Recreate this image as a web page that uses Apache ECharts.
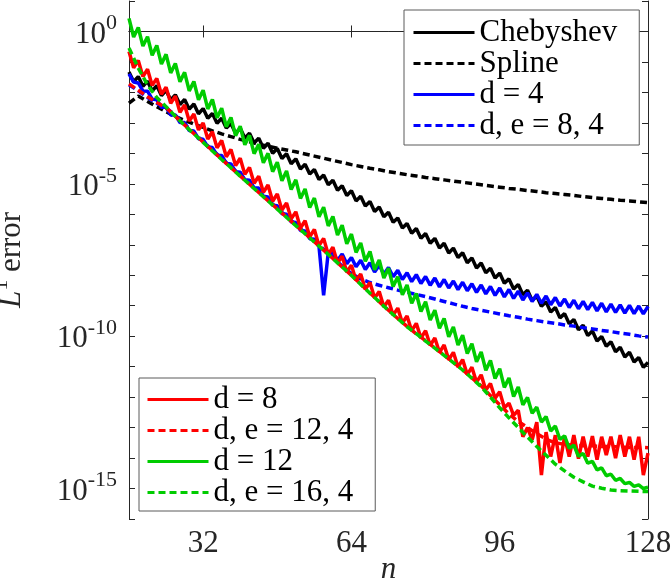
<!DOCTYPE html>
<html>
<head>
<meta charset="utf-8">
<script src="https://cdn.jsdelivr.net/npm/echarts@6/dist/echarts.min.js"></script>
<style>
  html, body { margin: 0; padding: 0; background: #fff; }
  #chart { width: 672px; height: 584px; }
</style>
</head>
<body>
<div id="chart"></div>
<script>
// log10 of the L1 error
// solid curves: one value per n = 16..128
const logChebyshev = [
  -1.33, -1.65, -1.48, -1.80, -1.63, -1.95, -1.78, -2.10, -1.93, -2.25,
  -2.08, -2.40, -2.23, -2.55, -2.38, -2.70, -2.53, -2.85, -2.69, -3.01,
  -2.85, -3.17, -3.02, -3.34, -3.18, -3.50, -3.34, -3.66, -3.50, -3.83,
  -3.67, -4.00, -3.84, -4.17, -4.01, -4.34, -4.18, -4.51, -4.36, -4.68,
  -4.53, -4.86, -4.71, -5.03, -4.88, -5.21, -5.06, -5.38, -5.23, -5.56,
  -5.41, -5.73, -5.58, -5.91, -5.76, -6.08, -5.93, -6.26, -6.12, -6.45,
  -6.30, -6.62, -6.47, -6.79, -6.63, -6.95, -6.79, -7.11, -6.95, -7.27,
  -7.11, -7.42, -7.26, -7.59, -7.43, -7.76, -7.60, -7.92, -7.77, -8.09,
  -7.93, -8.26, -8.12, -8.45, -8.30, -8.64, -8.49, -8.83, -8.68, -9.02,
  -8.87, -9.21, -9.06, -9.40, -9.26, -9.59, -9.45, -9.79, -9.64, -9.98,
  -9.83, -10.16, -10.01, -10.33, -10.18, -10.51, -10.36, -10.68, -10.53, -10.85,
  -10.70, -11.02, -10.86
];
const logD4 = [
  -1.39, -1.66, -1.69, -1.95, -1.96, -2.22, -2.24, -2.49, -2.49, -2.74,
  -2.74, -2.99, -2.99, -3.25, -3.27, -3.52, -3.54, -3.79, -3.81, -4.06,
  -4.07, -4.33, -4.35, -4.60, -4.62, -4.87, -4.88, -5.13, -5.14, -5.41,
  -5.43, -5.70, -5.72, -5.98, -6.00, -6.25, -6.27, -6.53, -6.55, -6.80,
  -6.82, -7.05, -8.66, -7.25, -7.25, -7.52, -7.30, -7.62, -7.42, -7.72,
  -7.51, -7.81, -7.59, -7.89, -7.67, -7.97, -7.75, -8.05, -7.84, -8.14,
  -7.92, -8.21, -7.98, -8.27, -8.04, -8.33, -8.09, -8.38, -8.14, -8.42,
  -8.19, -8.47, -8.23, -8.51, -8.28, -8.56, -8.32, -8.61, -8.37, -8.66,
  -8.42, -8.71, -8.47, -8.76, -8.52, -8.81, -8.58, -8.86, -8.63, -8.92,
  -8.68, -8.97, -8.73, -9.01, -8.78, -9.06, -8.82, -9.10, -8.86, -9.13,
  -8.89, -9.17, -8.92, -9.20, -8.95, -9.22, -8.97, -9.24, -8.99, -9.26,
  -9.01, -9.27, -9.02
];
const logD8 = [
  -0.66, -1.19, -0.95, -1.48, -1.24, -1.77, -1.54, -2.06, -1.83, -2.36,
  -2.12, -2.65, -2.41, -2.94, -2.71, -3.23, -3.00, -3.53, -3.29, -3.82,
  -3.58, -4.11, -3.87, -4.40, -4.16, -4.69, -4.46, -4.98, -4.75, -5.28,
  -5.04, -5.57, -5.33, -5.86, -5.63, -6.15, -5.92, -6.45, -6.21, -6.74,
  -6.50, -7.03, -6.79, -7.32, -7.08, -7.60, -7.38, -7.89, -7.67, -8.17,
  -7.96, -8.46, -8.24, -8.75, -8.53, -9.04, -8.82, -9.31, -9.08, -9.57,
  -9.34, -9.82, -9.58, -10.06, -9.82, -10.30, -10.06, -10.53, -10.29, -10.77,
  -10.53, -11.01, -10.77, -11.26, -11.02, -11.51, -11.27, -11.77, -11.55, -12.04,
  -11.82, -12.35, -12.20, -12.60, -12.43, -13.30, -13.00, -13.40, -12.82, -14.56,
  -13.15, -13.95, -13.25, -14.16, -13.30, -13.95, -13.25, -14.02, -13.30, -13.95,
  -13.28, -14.05, -13.30, -13.90, -13.30, -14.00, -13.25, -13.95, -13.30, -14.05,
  -13.30, -14.56, -13.84
];
const logD12 = [
  0.43, -0.18, 0.13, -0.48, -0.17, -0.78, -0.46, -1.07, -0.75, -1.36,
  -1.05, -1.65, -1.34, -1.95, -1.64, -2.24, -1.93, -2.54, -2.23, -2.83,
  -2.52, -3.13, -2.82, -3.42, -3.11, -3.72, -3.41, -4.01, -3.70, -4.31,
  -4.00, -4.60, -4.29, -4.90, -4.58, -5.19, -4.87, -5.48, -5.17, -5.78,
  -5.47, -6.08, -5.77, -6.38, -6.07, -6.68, -6.36, -6.97, -6.65, -7.25,
  -6.94, -7.54, -7.22, -7.82, -7.50, -8.09, -7.77, -8.37, -8.05, -8.64,
  -8.32, -8.92, -8.60, -9.19, -8.87, -9.47, -9.15, -9.74, -9.42, -10.02,
  -9.70, -10.29, -9.97, -10.57, -10.25, -10.84, -10.52, -11.12, -10.80, -11.39,
  -11.07, -11.68, -11.37, -11.98, -11.67, -12.25, -12.01, -12.53, -12.33, -12.82,
  -12.64, -13.11, -12.95, -13.39, -13.27, -13.68, -13.58, -13.94, -13.85, -14.17,
  -14.11, -14.39, -14.32, -14.58, -14.53, -14.73, -14.67, -14.84, -14.80, -14.93,
  -14.88, -15.00, -14.96
];

// dashed curves: one value per even n = 16, 18, ..., 128
const logSpline = [
  -2.35, -2.12, -2.30, -2.47, -2.63, -2.79, -2.92, -3.04, -3.15, -3.26,
  -3.36, -3.45, -3.54, -3.62, -3.70, -3.77, -3.83, -3.89, -3.95, -4.02,
  -4.09, -4.16, -4.23, -4.30, -4.37, -4.43, -4.49, -4.54, -4.60, -4.65,
  -4.70, -4.74, -4.79, -4.83, -4.87, -4.91, -4.95, -4.99, -5.03, -5.07,
  -5.11, -5.15, -5.18, -5.22, -5.25, -5.29, -5.32, -5.35, -5.38, -5.42,
  -5.45, -5.48, -5.51, -5.54, -5.56, -5.59, -5.62
];
const logDE8_4 = [
  -1.75, -1.95, -2.17, -2.36, -2.50, -2.76, -3.05, -3.33, -3.61, -3.89,
  -4.17, -4.44, -4.72, -4.99, -5.26, -5.53, -5.80, -6.07, -6.34, -6.61,
  -6.88, -7.15, -7.42, -7.70, -7.95, -8.12, -8.24, -8.33, -8.41, -8.49,
  -8.56, -8.63, -8.70, -8.78, -8.86, -8.94, -9.02, -9.09, -9.15, -9.21,
  -9.27, -9.33, -9.38, -9.44, -9.49, -9.54, -9.58, -9.63, -9.67, -9.72,
  -9.76, -9.81, -9.85, -9.90, -9.94, -9.99, -10.03
];
const logDE12_4 = [
  -1.72, -1.93, -2.14, -2.33, -2.50, -2.78, -3.07, -3.35, -3.63, -3.91,
  -4.19, -4.47, -4.74, -5.01, -5.28, -5.55, -5.82, -6.09, -6.36, -6.63,
  -6.90, -7.18, -7.45, -7.73, -8.00, -8.29, -8.58, -8.87, -9.15, -9.42,
  -9.68, -9.92, -10.15, -10.39, -10.62, -10.86, -11.10, -11.37, -11.63, -11.95,
  -12.25, -12.55, -12.80, -13.00, -13.20, -13.38, -13.50, -13.55, -13.58, -13.60,
  -13.60, -13.62, -13.62, -13.64, -13.65, -13.65, -13.66
];
const logDE16_4 = [
  -0.54, -1.20, -1.75, -2.17, -2.47, -2.78, -3.08, -3.36, -3.64, -3.92,
  -4.20, -4.47, -4.75, -5.02, -5.29, -5.56, -5.83, -6.10, -6.37, -6.64,
  -6.91, -7.18, -7.46, -7.73, -8.01, -8.30, -8.59, -8.87, -9.16, -9.42,
  -9.69, -9.92, -10.16, -10.39, -10.63, -10.87, -11.11, -11.38, -11.66, -12.00,
  -12.35, -12.68, -13.00, -13.31, -13.62, -13.91, -14.20, -14.42, -14.63, -14.78,
  -14.92, -14.99, -15.05, -15.07, -15.08, -15.09, -15.10
];

const xTickValues = [32, 64, 96, 128];
const yLabelExponents = [0, -5, -10, -15];

const nAll = [];
for (let n = 16; n <= 128; n++) nAll.push(n);
const nEven = nAll.filter(n => n % 2 === 0);

const FONT = '"Liberation Serif", "DejaVu Serif", serif';
const AXIS_COLOR = '#262626';
const DASH = [7, 4];

function pairs (xs, ys) {
  return ys.map((y, i) => [xs[i], y]);
}

function lineSeries (name, xs, ys, color, dashed) {
  return {
    name: name,
    type: 'line',
    data: pairs(xs, ys),
    symbol: 'none',
    showSymbol: false,
    color: color,
    lineStyle: { color: color, width: 3.5, type: dashed ? DASH : 'solid' },
    emphasis: { disabled: true },
    animation: false
  };
}

const supRich = {
  b: { fontSize: 31, fontFamily: FONT, color: AXIS_COLOR, lineHeight: 44 },
  s: { fontSize: 22, fontFamily: FONT, color: AXIS_COLOR, lineHeight: 22, verticalAlign: 'top' },
  i: { fontSize: 31, fontFamily: FONT, color: AXIS_COLOR, fontStyle: 'italic', lineHeight: 44 }
};

const legendCommon = {
  orient: 'vertical',
  itemWidth: 61,
  itemHeight: 12,
  itemGap: 0,
  backgroundColor: '#fff',
  borderColor: '#5a5a5a',
  borderWidth: 1,
  borderRadius: 0,
  selectedMode: false,
  lineStyle: { width: 3 },
  itemStyle: { color: 'transparent', borderWidth: 0 },
  textStyle: { fontFamily: FONT, fontSize: 31, color: '#000', lineHeight: 30.5 }
};

const chart = echarts.init(document.getElementById('chart'), null, { renderer: 'canvas' });

const option = {
  animation: false,
  backgroundColor: '#fff',
  grid: { left: 129, right: 24, top: 1, bottom: 65, outerBoundsMode: 'none', containLabel: false },
  legend: [
    Object.assign({}, legendCommon, {
      data: ['Chebyshev', 'Spline', 'd = 4', 'd, e = 8, 4'],
      left: 404,
      top: 10,
      padding: [7, 22, 4, 8]
    }),
    Object.assign({}, legendCommon, {
      data: ['d = 8', 'd, e = 12, 4', 'd = 12', 'd, e = 16, 4'],
      left: 139,
      top: 378,
      padding: [6, 22, 3, 7]
    })
  ],
  xAxis: [
    {
      type: 'value',
      min: 16,
      max: 128,
      position: 'bottom',
      name: 'n',
      nameLocation: 'middle',
      nameGap: 35,
      nameMoveOverlap: false,
      nameTextStyle: { fontFamily: FONT, fontSize: 31, fontStyle: 'italic', color: AXIS_COLOR },
      axisLine: { lineStyle: { color: AXIS_COLOR, width: 1 } },
      axisTick: { inside: true, length: 6, customValues: xTickValues, lineStyle: { color: AXIS_COLOR } },
      axisLabel: { customValues: xTickValues, fontFamily: FONT, fontSize: 31, color: AXIS_COLOR, margin: 9 },
      splitLine: { show: false }
    },
    {
      type: 'value',
      min: 16,
      max: 128,
      position: 'top',
      axisLine: { lineStyle: { color: AXIS_COLOR, width: 1 } },
      axisTick: { inside: true, length: 6, customValues: xTickValues.slice(0, 3), lineStyle: { color: AXIS_COLOR } },
      axisLabel: { show: false },
      splitLine: { show: false }
    }
  ],
  yAxis: [
    {
      type: 'value',
      min: -16,
      max: 1,
      interval: 1,
      position: 'left',
      name: '{i|L}{s|1}{b| error}',
      nameLocation: 'middle',
      nameGap: 95,
      nameRotate: 90,
      nameTextStyle: { rich: supRich },
      axisLine: { lineStyle: { color: AXIS_COLOR, width: 1 } },
      axisTick: { inside: true, length: 6, lineStyle: { color: AXIS_COLOR } },
      axisLabel: {
        margin: 12,
        padding: [6, 0, 0, 0],
        formatter: function (v) {
          return yLabelExponents.indexOf(v) >= 0 ? '{b|10}{s|' + v + '}' : '';
        },
        rich: supRich
      },
      splitLine: { show: false }
    },
    {
      type: 'value',
      min: -16,
      max: 1,
      interval: 1,
      position: 'right',
      axisLine: { show: true, lineStyle: { color: AXIS_COLOR, width: 1 } },
      axisTick: { show: true, inside: true, length: 6, lineStyle: { color: AXIS_COLOR } },
      axisLabel: { show: false },
      splitLine: { show: false }
    }
  ],
  series: [
    lineSeries('Chebyshev', nAll, logChebyshev, '#000000', false),
    lineSeries('Spline', nEven, logSpline, '#000000', true),
    lineSeries('d = 4', nAll, logD4, '#0000ff', false),
    lineSeries('d, e = 8, 4', nEven, logDE8_4, '#0000ff', true),
    lineSeries('d = 8', nAll, logD8, '#ff0000', false),
    lineSeries('d, e = 12, 4', nEven, logDE12_4, '#ff0000', true),
    lineSeries('d = 12', nAll, logD12, '#00cc00', false),
    lineSeries('d, e = 16, 4', nEven, logDE16_4, '#00cc00', true)
  ]
};

chart.setOption(option);
</script>
</body>
</html>
